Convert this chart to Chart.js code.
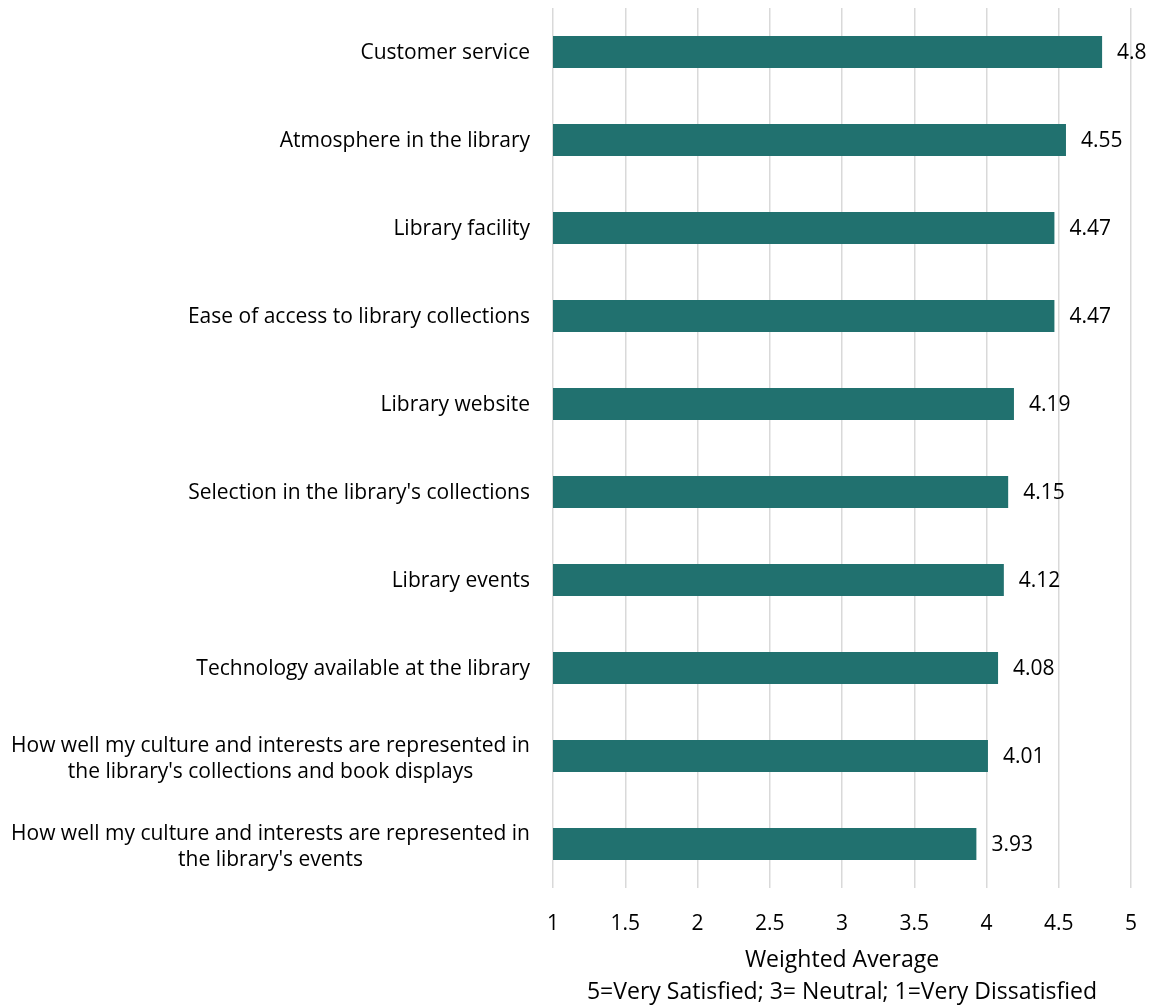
<!DOCTYPE html>
<html>
<head>
<meta charset="utf-8">
<script src="https://cdn.jsdelivr.net/npm/chart.js@4"></script>
<style>
  html, body { margin: 0; padding: 0; background: #fff; }
  #wrap { width: 1153px; height: 1006px; }
</style>
</head>
<body>
<div id="wrap"><canvas id="satisfactionChart"></canvas></div>
<script>
// Survey categories (multi-line ones split into arrays)
const categories = [
    'Customer service',
    'Atmosphere in the library',
    'Library facility',
    'Ease of access to library collections',
    'Library website',
    "Selection in the library's collections",
    'Library events',
    'Technology available at the library',
    ['How well my culture and interests are represented in', "the library's collections and book displays"],
    ['How well my culture and interests are represented in', "the library's events"]
];

// Weighted average score per category
const weightedAverages = [4.8, 4.55, 4.47, 4.47, 4.19, 4.15, 4.12, 4.08, 4.01, 3.93];

const xTicks = [1, 1.5, 2, 2.5, 3, 3.5, 4, 4.5, 5];
const axisTitle = ['Weighted Average', '5=Very Satisfied; 3= Neutral; 1=Very Dissatisfied'];

const fontFamily = "'Open Sans', sans-serif";
const textColor = '#000';

// Draws category labels: each block right-aligned, lines centred within the block
const categoryLabels = {
    id: 'categoryLabels',
    afterDraw(chart) {
        const ctx = chart.ctx;
        const yScale = chart.scales.y;
        const right = chart.chartArea.left - 23;
        const lineHeight = 26;
        ctx.save();
        ctx.font = '21px ' + fontFamily;
        ctx.fillStyle = textColor;
        ctx.textBaseline = 'middle';
        ctx.textAlign = 'center';
        categories.forEach((label, i) => {
            const lines = Array.isArray(label) ? label : [label];
            const blockWidth = Math.max(...lines.map(l => ctx.measureText(l).width));
            const cx = right - blockWidth / 2;
            const cy = yScale.getPixelForTick(i) + (lines.length > 1 ? 3 : 1);
            const startY = cy - (lines.length - 1) * lineHeight / 2;
            lines.forEach((line, j) => ctx.fillText(line, cx, startY + j * lineHeight));
        });
        ctx.restore();
    }
};

// Value labels to the right of each bar
const valueLabels = {
    id: 'valueLabels',
    afterDatasetsDraw(chart) {
        const ctx = chart.ctx;
        const meta = chart.getDatasetMeta(0);
        ctx.save();
        ctx.font = '21px ' + fontFamily;
        ctx.fillStyle = textColor;
        ctx.textAlign = 'left';
        ctx.textBaseline = 'middle';
        meta.data.forEach((bar, i) => {
            ctx.fillText(String(weightedAverages[i]), bar.x + 15, bar.y + 1);
        });
        ctx.restore();
    }
};

const ctx = document.getElementById('satisfactionChart').getContext('2d');
new Chart(ctx, {
    type: 'bar',
    data: {
        labels: categories,
        datasets: [{
            data: weightedAverages,
            backgroundColor: '#21716F',
            borderWidth: 0,
            categoryPercentage: 1,
            barPercentage: 0.365
        }]
    },
    options: {
        indexAxis: 'y',
        responsive: true,
        maintainAspectRatio: false,
        animation: false,
        layout: { padding: { top: 8, right: 22, bottom: 0, left: 0 } },
        plugins: {
            legend: { display: false },
            tooltip: { enabled: false }
        },
        scales: {
            x: {
                min: 1,
                max: 5,
                afterBuildTicks(scale) {
                    scale.ticks = xTicks.map(v => ({ value: v }));
                },
                afterFit(scale) {
                    scale.height = 118;
                    scale.paddingLeft = 0;
                    scale.paddingRight = 0;
                },
                grid: { color: '#D9D9D9', lineWidth: 1.5, drawTicks: false },
                border: { display: false },
                ticks: {
                    padding: 23,
                    color: textColor,
                    font: { family: fontFamily, size: 21, lineHeight: 1.25 },
                    callback: v => String(v)
                },
                title: {
                    display: true,
                    text: axisTitle,
                    color: textColor,
                    font: { family: fontFamily, size: 23, lineHeight: 1.39 },
                    padding: { top: 4, bottom: -2 }
                }
            },
            y: {
                grid: { display: false },
                border: { display: false },
                ticks: { display: false },
                afterFit(scale) { scale.width = 553; }
            }
        }
    },
    plugins: [categoryLabels, valueLabels]
});
</script>
</body>
</html>
